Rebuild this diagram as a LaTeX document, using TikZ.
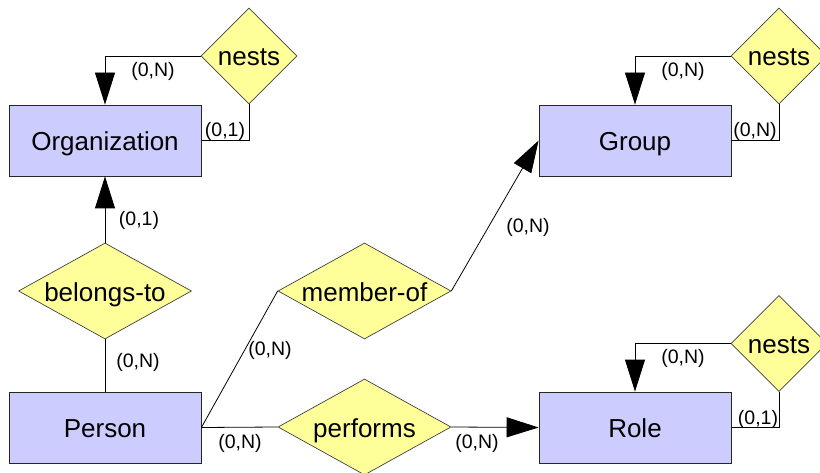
\documentclass[tikz,border=0pt]{standalone}
\usepackage{fontspec}
\setmainfont{Liberation Sans}
\usetikzlibrary{shapes.geometric,arrows.meta}
\definecolor{EntityFill}{RGB}{204,204,255}
\definecolor{RelFill}{RGB}{255,255,153}

\begin{document}
\begin{tikzpicture}[x=1pt,y=1pt]
                \tikzset{EntityStyle/.style={draw=black!85, fill=EntityFill, line width=0.8pt,
                    minimum width=192pt, minimum height=71pt, inner sep=0pt,
                    text height=20pt, text depth=0pt,
                    font=\fontsize{26}{30}\selectfont}}
                \tikzset{RelStyle/.style={diamond, draw=black!75, fill=RelFill, line width=0.7pt,
                    aspect=1.8, inner sep=0pt, minimum width=173pt, minimum height=96pt,
                    text height=20pt, text depth=0pt,
                    font=\fontsize{26}{30}\selectfont}}
                \tikzset{NestStyle/.style={RelStyle, aspect=1, minimum width=96pt}}
                \tikzset{CardStyle/.style={inner sep=0pt, font=\fontsize{19.5}{22}\selectfont}}
                \tikzset{LinkStyle/.style={draw=black, line width=0.8pt}}
                \tikzset{ArrowStyle/.style={LinkStyle, -{Triangle[length=32pt,width=20pt]}}}
                \useasboundingbox (0,0) rectangle (820,472);
                % entities
                \node[EntityStyle] (Org)    at (105,331.5) {Organization};
                \node[EntityStyle] (Grp)    at (635,331.5) {Group};
                \node[EntityStyle] (Person) at (105,44.5)  {Person};
                \node[EntityStyle] (Role)   at (635,44.5)  {Role};
                % relationships
                \node[NestStyle] (NestOrg)  at (249,416)   {nests};
                \node[NestStyle] (NestGrp)  at (779,416)   {nests};
                \node[NestStyle] (NestRole) at (779,128.5) {nests};
                \node[RelStyle] (Belongs)   at (105,181)   {belongs-to};
                \node[RelStyle] (MemberOf)  at (364.5,181) {member-of};
                \node[RelStyle] (Performs)  at (364.5,45)  {performs};
                % links
                \draw[ArrowStyle] (NestOrg.west) -| (Org.north);
                \draw[LinkStyle] (NestOrg.south) |- (Org.east);
                \draw[ArrowStyle] (NestGrp.west) -| (Grp.north);
                \draw[LinkStyle] (NestGrp.south) |- (Grp.east);
                \draw[ArrowStyle] (NestRole.west) -| (Role.north);
                \draw[LinkStyle] (NestRole.south) |- (Role.east);
                \draw[ArrowStyle] (Belongs.north) -- (Org.south);
                \draw[LinkStyle] (Belongs.south) -- (Person.north);
                \draw[LinkStyle] (Person.east) -- (MemberOf.west);
                \draw[ArrowStyle] (MemberOf.east) -- (Grp.west);
                \draw[LinkStyle] (Person.east) -- (Performs.west);
                \draw[ArrowStyle] (Performs.east) -- (Role.west);
                % cardinalities
                \node[CardStyle] (cOrgN)    at (153,401) {(0,N)};
                \node[CardStyle] (cOrg1)    at (225,341) {(0,1)};
                \node[CardStyle] (cGrpN)    at (683,401) {(0,N)};
                \node[CardStyle] (cGrpN2)   at (755,341) {(0,N)};
                \node[CardStyle] (cRoleN)   at (683,114) {(0,N)};
                \node[CardStyle] (cRole1)   at (758,53)  {(0,1)};
                \node[CardStyle] (cBelong1) at (139,252) {(0,1)};
                \node[CardStyle] (cBelongN) at (138,110) {(0,N)};
                \node[CardStyle] (cMemberN) at (270,122) {(0,N)};
                \node[CardStyle] (cGroupN)  at (528,245) {(0,N)};
                \node[CardStyle] (cPerfN)   at (240,29)  {(0,N)};
                \node[CardStyle] (cPerfN2)  at (477,29)  {(0,N)};
            \end{tikzpicture}
\end{document}
